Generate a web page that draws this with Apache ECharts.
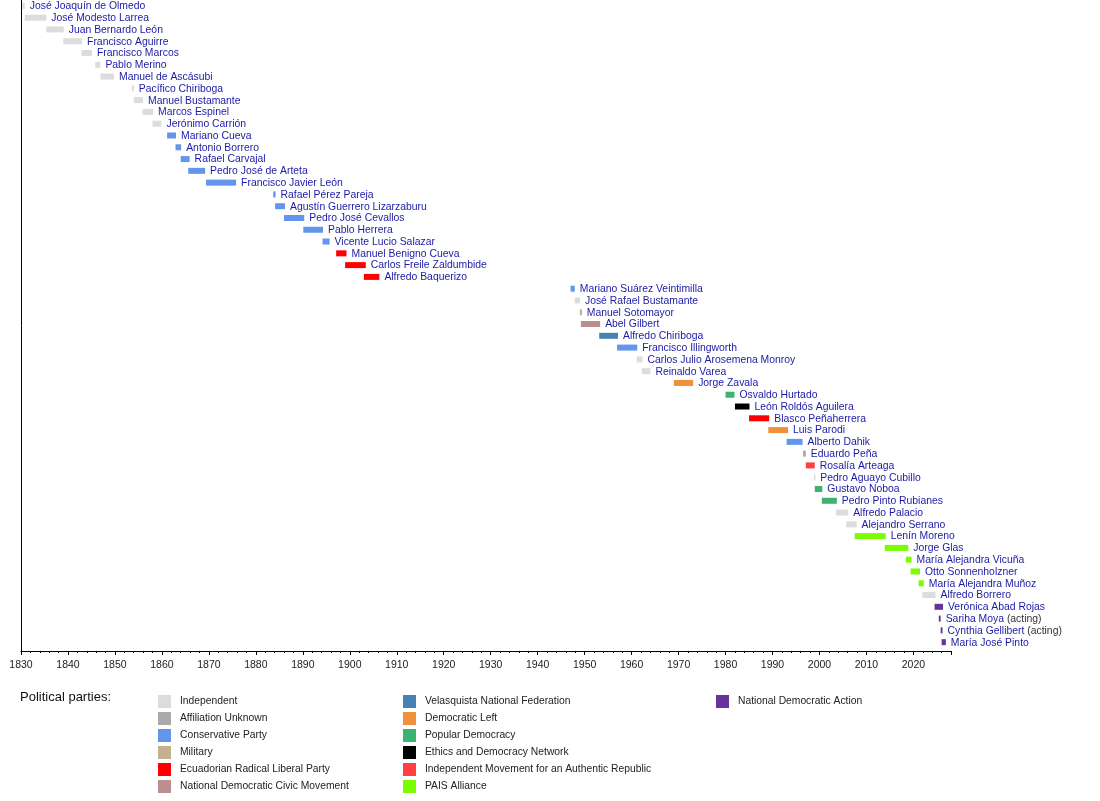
<!DOCTYPE html>
<html>
<head>
<meta charset="utf-8">
<script src="https://cdn.jsdelivr.net/npm/echarts@6/dist/echarts.min.js"></script>
<style>
  html, body { margin: 0; padding: 0; background: #fff; }
  #chart { width: 1100px; height: 801px; }
</style>
</head>
<body>
<div id="chart"></div>
<script>
// vice presidents, top to bottom
const names = [
  'José Joaquín de Olmedo', 'José Modesto Larrea', 'Juan Bernardo León', 'Francisco Aguirre',
  'Francisco Marcos', 'Pablo Merino', 'Manuel de Ascásubi', 'Pacífico Chiriboga',
  'Manuel Bustamante', 'Marcos Espinel', 'Jerónimo Carrión', 'Mariano Cueva',
  'Antonio Borrero', 'Rafael Carvajal', 'Pedro José de Arteta', 'Francisco Javier León',
  'Rafael Pérez Pareja', 'Agustín Guerrero Lizarzaburu', 'Pedro José Cevallos', 'Pablo Herrera',
  'Vicente Lucio Salazar', 'Manuel Benigno Cueva', 'Carlos Freile Zaldumbide', 'Alfredo Baquerizo',
  'Mariano Suárez Veintimilla', 'José Rafael Bustamante', 'Manuel Sotomayor', 'Abel Gilbert',
  'Alfredo Chiriboga', 'Francisco Illingworth', 'Carlos Julio Arosemena Monroy', 'Reinaldo Varea',
  'Jorge Zavala', 'Osvaldo Hurtado', 'León Roldós Aguilera', 'Blasco Peñaherrera',
  'Luis Parodi', 'Alberto Dahik', 'Eduardo Peña', 'Rosalía Arteaga',
  'Pedro Aguayo Cubillo', 'Gustavo Noboa', 'Pedro Pinto Rubianes', 'Alfredo Palacio',
  'Alejandro Serrano', 'Lenín Moreno', 'Jorge Glas', 'María Alejandra Vicuña',
  'Otto Sonnenholzner', 'María Alejandra Muñoz', 'Alfredo Borrero', 'Verónica Abad Rojas',
  'Sariha Moya', 'Cynthia Gellibert', 'María José Pinto'
];
const notes = names.map(n => (n === 'Sariha Moya' || n === 'Cynthia Gellibert') ? '(acting)' : '');

const starts = [
  1830.3, 1830.8, 1835.4, 1839.0, 1842.9, 1845.8, 1846.9, 1853.6,
  1854.0, 1855.9, 1858.0, 1861.1, 1862.9, 1864.0, 1865.6, 1869.4,
  1883.7, 1884.1, 1886.0, 1890.1, 1894.2, 1897.1, 1899.0, 1903.0,
  1947.0, 1947.9, 1949.0, 1949.2, 1953.1, 1956.9, 1961.1, 1962.2,
  1969.0, 1980.0, 1982.0, 1985.0, 1989.1, 1993.0, 1996.5, 1997.1,
  1998.8, 1999.0, 2000.5, 2003.5, 2005.7, 2007.5, 2013.9, 2018.4,
  2019.4, 2021.1, 2021.9, 2024.5, 2025.4, 2025.8, 2026.0
];
const ends = [
  1830.8, 1835.4, 1839.1, 1843.0, 1845.1, 1846.9, 1849.8, 1854.0,
  1856.0, 1858.1, 1859.9, 1863.0, 1864.1, 1865.9, 1869.2, 1875.8,
  1884.2, 1886.2, 1890.3, 1894.3, 1895.7, 1899.3, 1903.4, 1906.3,
  1947.9, 1949.0, 1949.4, 1953.3, 1957.1, 1961.2, 1962.3, 1964.0,
  1973.1, 1981.9, 1985.1, 1989.3, 1993.3, 1996.4, 1997.1, 1999.0,
  1999.1, 2000.6, 2003.7, 2006.1, 2007.9, 2014.1, 2018.9, 2019.6,
  2021.4, 2022.2, 2024.7, 2026.3, 2025.8, 2026.2, 2026.9
];

const partyNames = [
  'Independent', 'Affiliation Unknown', 'Conservative Party', 'Military',
  'Ecuadorian Radical Liberal Party', 'National Democratic Civic Movement',
  'Velasquista National Federation', 'Democratic Left', 'Popular Democracy',
  'Ethics and Democracy Network', 'Independent Movement for an Authentic Republic',
  'PAIS Alliance', 'National Democratic Action'
];
const partyColors = [
  '#dcdcdc', '#aaaaaa', '#6495ed', '#c2b091',
  '#ff0000', '#bc8f8f',
  '#4682b4', '#f0903c', '#3cb371',
  '#000000', '#ff4040',
  '#7cfc00', '#663399'
];
// party index for every row
const parties = [
  0, 0, 0, 0, 0, 0, 0, 0, 0, 0, 0,
  2, 2, 2, 2, 2, 2, 2, 2, 2, 2,
  4, 4, 4,
  2, 0, 1, 5, 6, 2, 0, 0,
  7, 8, 9, 4, 7, 2, 1, 10,
  0, 8, 8, 0, 0,
  11, 11, 11, 11, 11,
  0, 12, 12, 12, 12
];

const chart = echarts.init(document.getElementById('chart'));
const FONT = '"Liberation Sans", Arial, sans-serif';
const LABEL_FONT = '10.4px ' + FONT;

function renderItem(params, api) {
  const row = api.value(2);
  const idx = api.value(3);
  const a = api.coord([api.value(0), row]);
  const b = api.coord([api.value(1), row]);
  const h = 6;
  const note = notes[idx];
  return {
    type: 'group',
    children: [
      {
        type: 'rect',
        shape: { x: a[0], y: a[1] - h / 2, width: Math.max(b[0] - a[0], 1.5), height: h },
        style: { fill: api.visual('color') }
      },
      {
        type: 'text',
        style: {
          x: b[0] + 5,
          y: a[1] + 0.5,
          text: note ? '{n|' + names[idx] + '} {a|' + note + '}' : names[idx],
          fill: '#1a1aa6',
          font: LABEL_FONT,
          verticalAlign: 'middle',
          rich: {
            n: { fill: '#1a1aa6', font: LABEL_FONT },
            a: { fill: '#333', font: LABEL_FONT }
          }
        }
      }
    ]
  };
}

const series = partyNames.map((p, pi) => ({
  name: p,
  type: 'custom',
  renderItem,
  itemStyle: { color: partyColors[pi] },
  encode: { x: [0, 1], y: 2 },
  silent: true,
  data: names.map((n, i) => [starts[i], ends[i], i + 0.5, i]).filter((d, i) => parties[i] === pi)
}));

function legendBlock(left, list) {
  return {
    left, top: 695, orient: 'vertical', padding: 0,
    icon: 'rect', itemWidth: 13, itemHeight: 13, itemGap: 4,
    selectedMode: false,
    textStyle: { fontSize: 10.3, color: '#222', fontFamily: FONT, padding: [0, 0, 0, 4] },
    data: list
  };
}

chart.setOption({
  animation: false,
  title: {
    text: 'Political parties:', left: 20, top: 691, padding: 0,
    textStyle: { fontSize: 13, fontWeight: 'normal', color: '#111', fontFamily: FONT }
  },
  legend: [
    legendBlock(158, partyNames.slice(0, 6)),
    legendBlock(403, partyNames.slice(6, 12)),
    legendBlock(716, partyNames.slice(12))
  ],
  grid: { left: 21, right: 149, top: 0, bottom: 150 },
  xAxis: {
    type: 'value', min: 1830, max: 2028, interval: 10,
    axisLine: { show: true, onZero: false, lineStyle: { color: '#000', width: 1 } },
    axisTick: { show: true, length: 4, lineStyle: { color: '#000' } },
    minorTick: { show: true, splitNumber: 5, length: 2, lineStyle: { color: '#000' } },
    splitLine: { show: false },
    axisLabel: {
      margin: 9, fontSize: 10.5, color: '#222', fontFamily: FONT,
      formatter: v => (v % 10 === 0 ? String(v) : '')
    }
  },
  yAxis: {
    type: 'value', inverse: true, min: 0, max: 55.25,
    axisLine: { show: true, onZero: false, lineStyle: { color: '#000', width: 1 } },
    axisTick: { show: false }, axisLabel: { show: false }, splitLine: { show: false }
  },
  series
});
</script>
</body>
</html>
